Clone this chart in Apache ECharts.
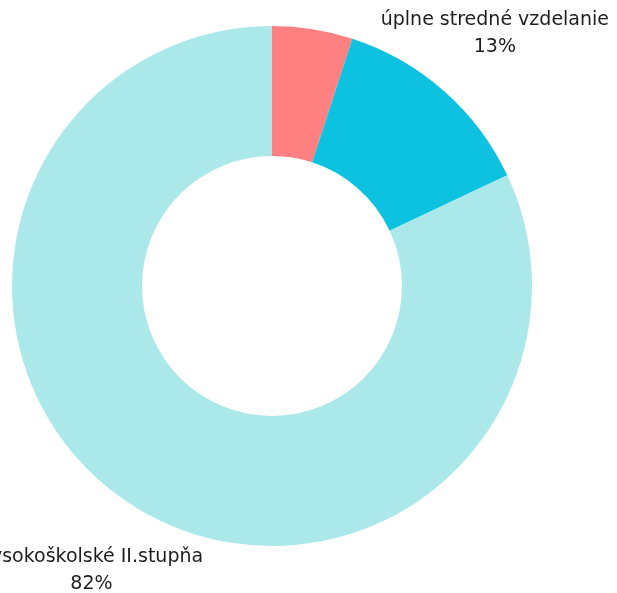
<!DOCTYPE html>
<html>
<head>
<meta charset="utf-8">
<script src="https://cdn.jsdelivr.net/npm/echarts@6/dist/echarts.min.js"></script>
<style>
  html, body { margin: 0; padding: 0; background: #fff; }
  #pie { width: 617px; height: 593px; }
</style>
</head>
<body>
<div id="pie"></div>
<script>
const categories = ['vysokoškolské I.stupňa', 'úplne stredné vzdelanie', 'vysokoškolské II.stupňa']
const values = [5, 13, 82]
const colors = ['#ff8080', '#0cc2e0', '#abe8ea']
const showLabel = [false, true, true]

const chart = echarts.init(document.getElementById('pie'))

const pieOption = {
  animation: false,
  series: [
    {
      type: 'pie',
      center: [272, 286],
      radius: [130, 260],
      startAngle: 90,
      clockwise: true,
      avoidLabelOverlap: false,
      label: {
        position: 'outside',
        formatter: '{b}\n{d}%',
        fontFamily: 'DejaVu Sans',
        fontSize: 19,
        lineHeight: 27,
        color: '#1e1e1e',
        overflow: 'none',
        distanceToLabelLine: 0
      },
      labelLine: {
        show: false,
        length: 77,
        length2: 0
      },
      labelLayout: function () {
        return { align: 'center', verticalAlign: 'middle' }
      },
      itemStyle: { borderWidth: 0 },
      data: categories.map((name, i) => ({
        name: name,
        value: values[i],
        itemStyle: { color: colors[i] },
        label: { show: showLabel[i] }
      }))
    }
  ]
}
chart.setOption(pieOption)
</script>
</body>
</html>
